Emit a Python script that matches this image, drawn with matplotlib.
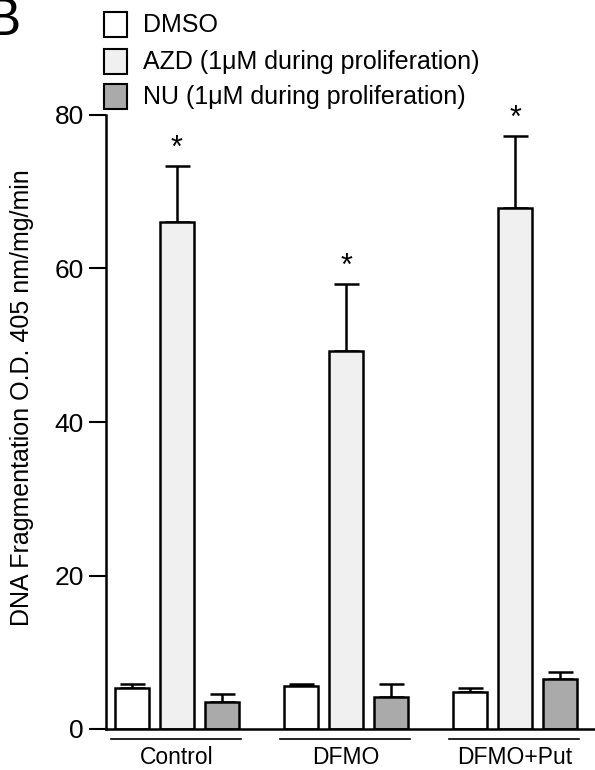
import numpy as np
import matplotlib
matplotlib.use("Agg")
import matplotlib.pyplot as plt
from matplotlib.patches import Rectangle
import matplotlib.transforms as mtransforms

plt.rcParams['font.family'] = ['Liberation Sans', 'DejaVu Sans']

groups = ['Control', 'DFMO', 'DFMO+Put']
series = ['DMSO', 'AZD', 'NU']
legend_text = ['DMSO', 'AZD (1\u03bcM during proliferation)', 'NU (1\u03bcM during proliferation)']
colors = ['#ffffff', '#f0f0f0', '#aaaaaa']

dmso = [5.3, 5.6, 4.8]
dmso_err = [0.6, 0.2, 0.5]
azd = [66.1, 49.2, 67.9]
azd_err = [7.3, 8.8, 9.4]
nu = [3.5, 4.2, 6.5]
nu_err = [1.1, 1.7, 0.9]

values = [dmso, azd, nu]
errors = [dmso_err, azd_err, nu_err]
stars = [True, True, True]

fig = plt.figure(figsize=(5.95, 7.7), dpi=100)
ax = fig.add_axes([106 / 595, 41 / 770, 1 - 106 / 595, 614 / 770])

x = np.arange(len(groups))
off = 0.266
w = 0.2
for i in range(3):
    ax.bar(x + (i - 1) * off, values[i], w, color=colors[i], edgecolor='black',
           linewidth=1.8, zorder=2)
    ax.errorbar(x + (i - 1) * off, values[i], yerr=[np.zeros(3), errors[i]],
                fmt='none', ecolor='black', elinewidth=1.8, capsize=9, capthick=1.8,
                zorder=1)

for j in range(3):
    if stars[j]:
        ax.text(x[j], azd[j] + azd_err[j] + 0.2, '*', ha='center', va='bottom',
                fontsize=22, clip_on=False)

ax.set_xlim(-0.42, 2.473)
ax.set_ylim(0, 80)
ax.set_yticks([0, 20, 40, 60, 80])
ax.tick_params(axis='y', direction='out', length=12, width=1.5, labelsize=19, pad=4)
ax.set_xticks(x)
ax.set_xticklabels(groups)
ax.tick_params(axis='x', length=0, labelsize=16.5, pad=12)
for s in ['top', 'right']:
    ax.spines[s].set_visible(False)
ax.spines['left'].set_linewidth(1.8)
ax.spines['bottom'].set_linewidth(1.8)

fig.text(22 / 595, 1 - 398 / 770, 'DNA Fragmentation O.D. 405 nm/mg/min', fontsize=18,
         rotation=90, ha='center', va='center')

# group underlines
trans = mtransforms.blended_transform_factory(ax.transData, ax.transAxes)
for j in range(3):
    ax.plot([x[j] - 0.39, x[j] + 0.38], [-0.016, -0.016], color='black', lw=1.2,
            transform=trans, clip_on=False)

# legend
box_y = [12, 49, 84]
for i in range(3):
    fig.add_artist(Rectangle((104 / 595, 1 - (box_y[i] + 25) / 770), 23 / 595, 25 / 770,
                             facecolor=colors[i], edgecolor='black', linewidth=1.5,
                             transform=fig.transFigure))
    fig.text(143 / 595, 1 - (box_y[i] + 13) / 770, legend_text[i], fontsize=18,
             va='center', ha='left')

fig.text(-0.025, 1 - 35 / 770, 'B', fontsize=38, va='baseline', ha='left')

fig.savefig('out.png', dpi=100)
